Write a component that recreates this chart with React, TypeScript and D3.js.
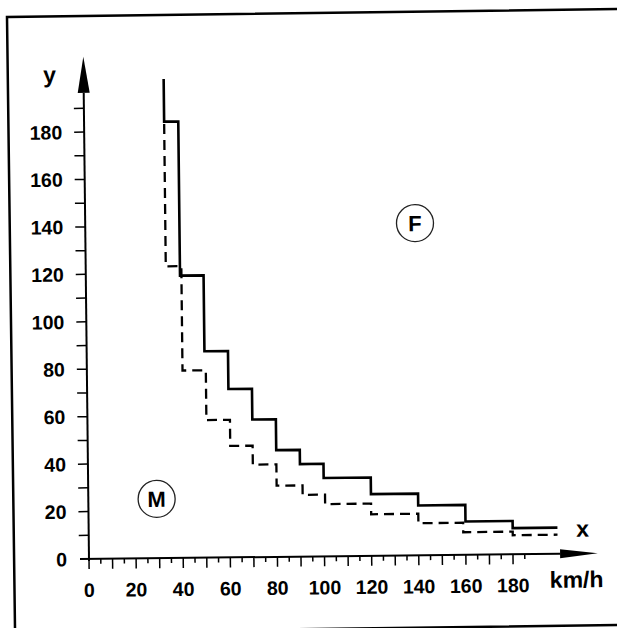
import * as d3 from 'd3'

// step curves: value holds from speed[i] up to speed[i+1]
const speedSolid = [34, 34, 40, 50, 60, 70, 80, 90, 100, 120, 140, 160, 180, 199]
const valueSolid = [202, 184, 119, 87, 71, 58, 45, 39, 33, 26, 21, 14, 11, 11]

const speedDashed = [34, 34, 40.6, 50.5, 60.5, 70, 80, 91, 100.5, 120, 140, 159, 180, 199]
const valueDashed = [183, 123, 79, 58, 47, 39, 30, 26, 22, 17.5, 13.5, 9.5, 8, 8]

const yTickLabels = [0, 20, 40, 60, 80, 100, 120, 140, 160, 180]
const xTickLabels = [0, 20, 40, 60, 80, 100, 120, 140, 160, 180]

// circled markers, placed in data units
const markers = [
  { label: 'F', speed: 140, value: 140 },
  { label: 'M', speed: 29, value: 25 },
]

const font = "'Liberation Sans', Arial, Helvetica, sans-serif"

export default function App() {
  const x = d3.scaleLinear().domain([0, 180]).range([89, 513])
  const y = d3.scaleLinear().domain([0, 180]).range([559, 132])

  const step = d3.line<number[]>()
    .x(d => x(d[0]))
    .y(d => y(d[1]))
    .curve(d3.curveStepAfter)

  const solidPts = speedSolid.map((s, i) => [s, valueSolid[i]])
  const dashedPts = speedDashed.map((s, i) => [s, valueDashed[i]])

  const yTicks = d3.range(10, 191, 10)
  const xTicks = d3.range(0, 186, 5)

  const x0 = x(0), y0 = y(0)

  // arrows
  const yTip = y(211.7), yBase = y(196.5)
  const xTip = x(216), xBase = x(200)

  return (
    <svg width={617} height={628} style={{ position: 'absolute', left: 0, top: 0, background: '#fff' }}>
      {/* scanned frame, right edge falls outside the page */}
      <rect x={7} y={17} width={700} height={616} fill="none" stroke="#000" strokeWidth={2.5}
        transform="rotate(-0.75 7 17)" />

      <g transform={`rotate(-0.65 ${x0} ${y0})`} fontFamily={font} fontWeight="bold" fill="#000">
        {/* y axis */}
        <line x1={x0} x2={x0} y1={y0 + 2} y2={yBase} stroke="#000" strokeWidth={2} />
        <path d={`M${x0},${yTip} L${x0 + 6},${yBase} L${x0 - 6},${yBase} Z`} fill="#000" />
        {yTicks.map(t => (
          <line key={'yt' + t} x1={x0 - 10} x2={x0} y1={y(t)} y2={y(t)} stroke="#000" strokeWidth={1.5} />
        ))}
        {yTickLabels.map(t => (
          <text key={'yl' + t} x={x0 - 22} y={y(t)} dy="0.36em" textAnchor="end" fontSize={19.5}>{t}</text>
        ))}
        <text x={x0 - 34} y={y(201)} textAnchor="middle" fontSize={23}>y</text>

        {/* x axis */}
        <line x1={x0 - 9} x2={xBase} y1={y0} y2={y0} stroke="#000" strokeWidth={2} />
        <path d={`M${xTip},${y0} L${xBase},${y0 - 4.5} L${xBase},${y0 + 4.5} Z`} fill="#000" />
        {xTicks.map(t => (
          <line key={'xt' + t} x1={x(t)} x2={x(t)} y1={y0} y2={y0 + (t % 10 === 0 ? 10 : 5)}
            stroke="#000" strokeWidth={1.5} />
        ))}
        {xTickLabels.map(t => (
          <text key={'xl' + t} x={x(t)} y={y0 + 38} textAnchor="middle" fontSize={19.5}>{t}</text>
        ))}
        <text x={x(209.7)} y={y(7)} textAnchor="middle" fontSize={23}>x</text>
        <text x={x(195.5)} y={y0 + 34} fontSize={23}>km/h</text>

        {/* curves */}
        <path d={step(dashedPts) ?? ''} fill="none" stroke="#000" strokeWidth={2.3} strokeDasharray="10 6" />
        <path d={step(solidPts) ?? ''} fill="none" stroke="#000" strokeWidth={2.6} />

        {/* circled markers */}
        {markers.map(m => (
          <g key={m.label} transform={`translate(${x(m.speed)},${y(m.value)})`}>
            <circle r={18.5} fill="none" stroke="#222" strokeWidth={1.3} />
            <text textAnchor="middle" dy="0.36em" fontSize={22}>{m.label}</text>
          </g>
        ))}
      </g>
    </svg>
  )
}
